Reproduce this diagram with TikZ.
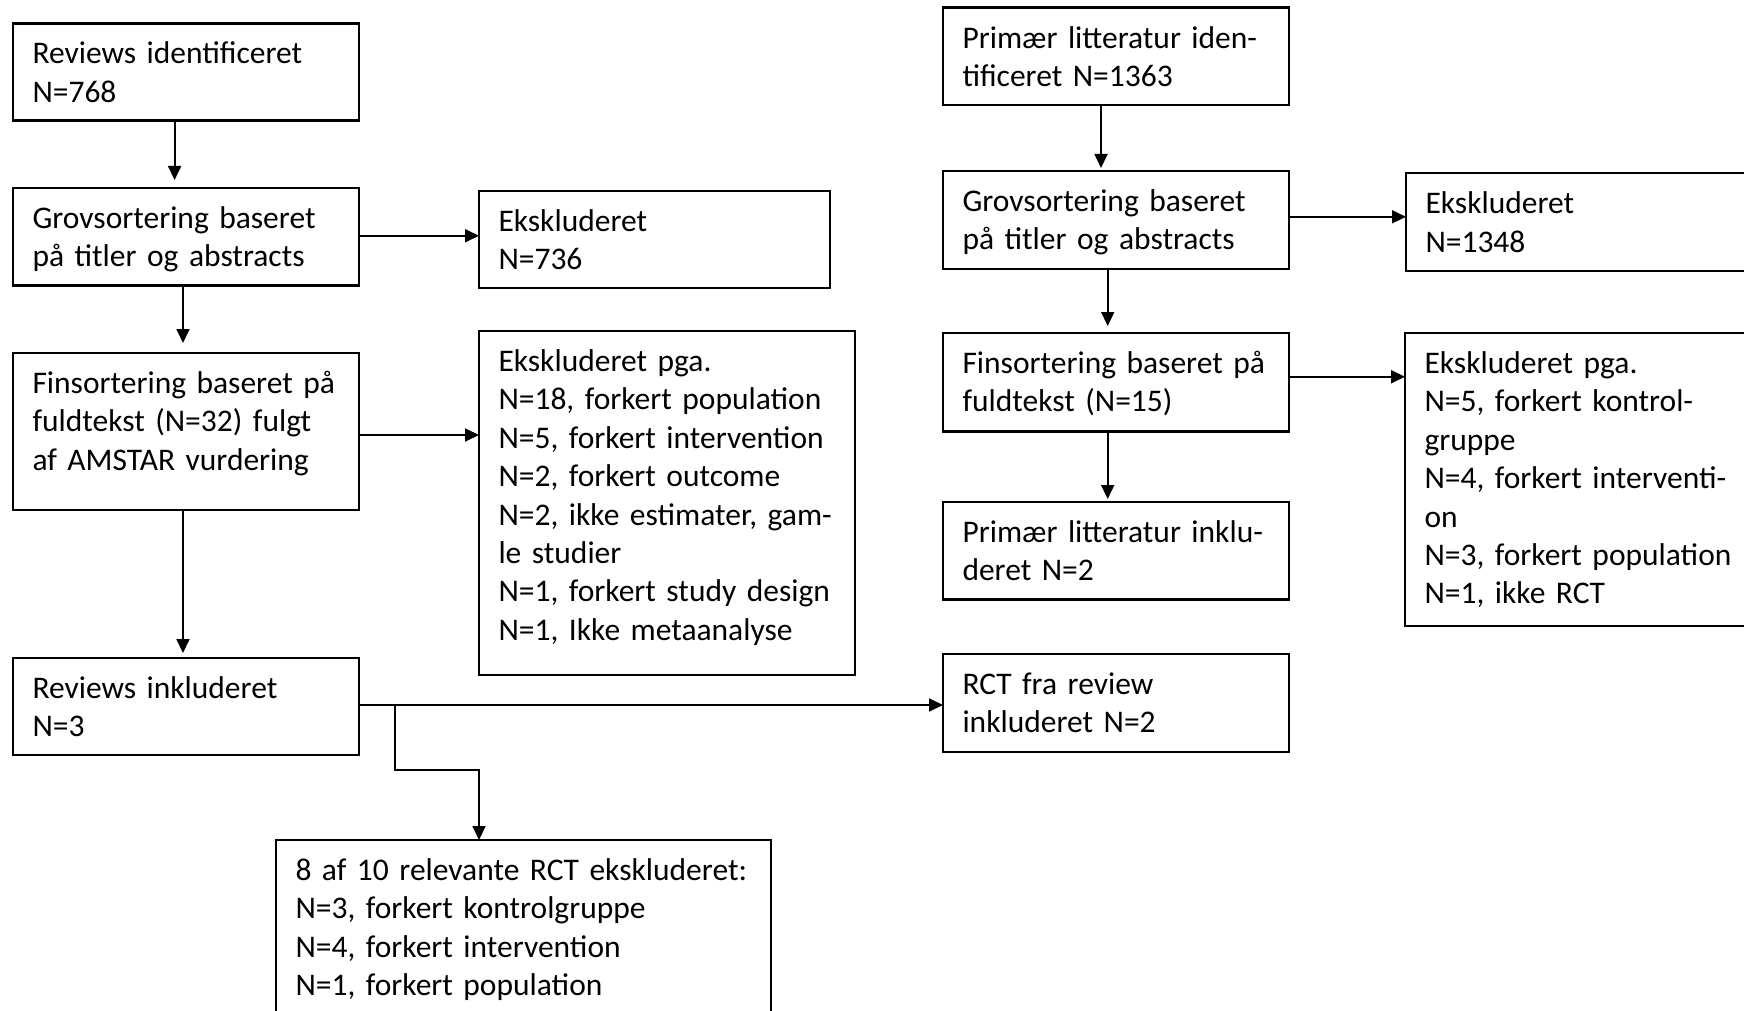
\documentclass[tikz,border=0pt]{standalone}
\usepackage{fontspec}
\setmainfont{Carlito}
\usetikzlibrary{arrows.meta,calc}
\newcommand\bxfont{\fontsize{31.5pt}{38.4pt}\selectfont}
\newcommand\bxt[1]{\leftskip=19.5pt\relax\rightskip=0pt plus 1fil\relax\parfillskip=0pt plus 1fil\relax\hyphenpenalty=10000\relax\parindent=0pt\relax #1\par}
\tikzset{
  bx/.style n args={2}{draw, line width=2.2pt, anchor=north west, inner sep=0pt, outer sep=0pt,
    text width=#1, text height=40.5pt, text depth=#2, font=\bxfont},
  arr/.style={draw, line width=1.8pt, -{Triangle[length=14pt,width=13pt]}},
}
\begin{document}
\begin{tikzpicture}[x=1pt,y=-1pt]
\useasboundingbox (0,0) rectangle (1744,1011);
\clip (0,0) rectangle (1744,1011);
% left column
\node[bx={346pt}{56.5pt}] (A) at (13,23.5) {\bxt{Reviews identificeret\\N=768}};
\node[bx={346pt}{57pt}] (B) at (13,188) {\bxt{Grovsortering baseret\\på titler og abstracts}};
\node[bx={346pt}{116.5pt}] (C) at (13,353) {\bxt{Finsortering baseret på\\fuldtekst (N=32) fulgt\\af AMSTAR vurdering}};
\node[bx={346pt}{56.5pt}] (D) at (13,658) {\bxt{Reviews inkluderet\\N=3}};
\node[bx={351pt}{56.5pt}] (X1) at (479,191) {\bxt{Ekskluderet\\N=736}};
\node[bx={376pt}{303.5pt}] (X2) at (479,331) {\bxt{Ekskluderet pga.\\N=18, forkert population\\N=5, forkert intervention\\N=2, forkert outcome\\N=2, ikke estimater, gam-\\le studier\\N=1, forkert study design\\N=1, Ikke metaanalyse}};
\node[bx={495pt}{159.5pt}] (E) at (276,840) {\bxt{8 af 10 relevante RCT ekskluderet:\\N=3, forkert kontrolgruppe\\N=4, forkert intervention\\N=1, forkert population}};
% right column
\node[bx={346pt}{56.9pt}] (F) at (943,7.6) {\bxt{Primær litteratur iden-\\tificeret N=1363}};
\node[bx={346pt}{57.1pt}] (G) at (943,171) {\bxt{Grovsortering baseret\\på titler og abstracts}};
\node[bx={360pt}{56.8pt}] (Y1) at (1406,173.4) {\bxt{Ekskluderet\\N=1348}};
\node[bx={346pt}{58pt}] (H) at (943,333) {\bxt{Finsortering baseret på\\fuldtekst (N=15)}};
\node[bx={360pt}{252.5pt}] (Y2) at (1405,333) {\bxt{Ekskluderet pga.\\N=5, forkert kontrol-\\gruppe\\N=4, forkert interventi-\\on\\N=3, forkert population\\N=1, ikke RCT}};
\node[bx={346pt}{56.9pt}] (I) at (943,502) {\bxt{Primær litteratur inklu-\\deret N=2}};
\node[bx={346pt}{57.5pt}] (J) at (943,654) {\bxt{RCT fra review\\inkluderet N=2}};
% connectors left
\draw[arr, shorten >=8pt] ([xshift=161.6pt]A.south west) -- ([xshift=161.6pt]B.north west);
\draw[arr, shorten >=10pt] ([xshift=170pt]B.south west) -- ([xshift=170pt]C.north west);
\draw[arr, shorten >=5pt] ([xshift=170pt]C.south west) -- ([xshift=170pt]D.north west);
\draw[arr] ($(B.east)+(0,-1)$) -- ($(B.east -| X1.west)+(0,-1)$);
\draw[arr] ($(C.east)+(0,3.5)$) -- ($(C.east -| X2.west)+(0,3.5)$);
\draw[arr] ($(D.east)+(0,-1.5)$) -- ($(D.east -| J.west)+(0,-1.5)$);
\coordinate (br) at ($(D.east)+(36,-1.5)$);
\draw[arr] (br) -- ++(0,65) -| ([xshift=203pt]E.north west);
% connectors right
\draw[arr, shorten >=3pt] ([xshift=158pt]F.south west) -- ([xshift=158pt]G.north west);
\draw[arr, shorten >=7pt] ([xshift=164.7pt]G.south west) -- ([xshift=164.7pt]H.north west);
\draw[arr, shorten >=3pt] ([xshift=164.7pt]H.south west) -- ([xshift=164.7pt]I.north west);
\draw[arr] ($(G.east)+(0,-3)$) -- ($(G.east -| Y1.west)+(0,-3)$);
\draw[arr] ($(H.east)+(0,-5.5)$) -- ($(H.east -| Y2.west)+(0,-5.5)$);
\end{tikzpicture}
\end{document}
